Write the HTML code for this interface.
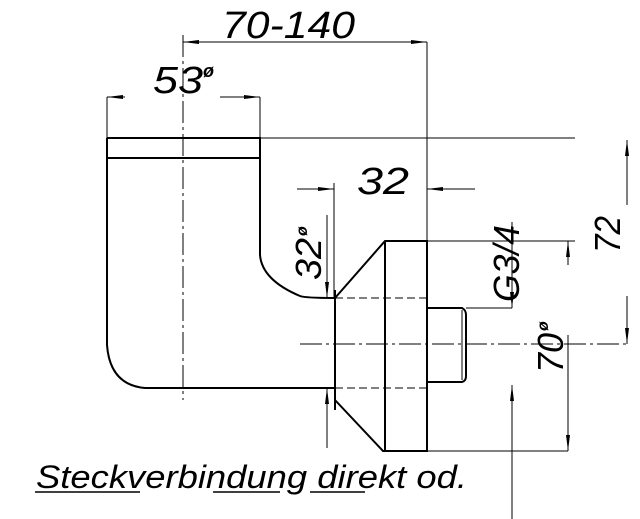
<!DOCTYPE html>
<html><head><meta charset="utf-8"><style>
html,body{margin:0;padding:0;background:#fff;}
svg{display:block;}
text{font-family:"Liberation Sans",sans-serif;font-style:italic;fill:#000;}
</style></head><body>
<svg width="640" height="519" viewBox="0 0 640 519" xmlns="http://www.w3.org/2000/svg">
<g stroke="#000" fill="none" stroke-width="2">
<path d="M107,138 H260 V255 Q262,280 300,296 Q305,298 335,298"/>
<path d="M107,138 V345 Q110,385 145,388 H335"/>
<line x1="107" y1="158" x2="260" y2="158"/>
<path d="M335,298 L385,241 H427 V451 H383 L335,400 Z"/>
<line x1="335" y1="290" x2="335" y2="410"/>
<line x1="385" y1="241" x2="385" y2="451"/>
<path d="M427,308 H462 Q466,310 466,315 V376 Q466,381 462,382 H427"/>
</g>
<g stroke="#000" fill="none" stroke-width="1">
<line x1="462" y1="310" x2="462" y2="380"/>
<line x1="183" y1="35" x2="183" y2="400" stroke-dasharray="22,4,3,4"/>
<line x1="300" y1="344" x2="628" y2="344" stroke-dasharray="22,4,3,4"/>
<line x1="335" y1="298" x2="427" y2="298" stroke-dasharray="8,4"/>
<line x1="335" y1="388" x2="427" y2="388" stroke-dasharray="8,4"/>
<line x1="183" y1="42" x2="427" y2="42"/>
<line x1="427" y1="42" x2="427" y2="241"/>
<line x1="107" y1="97" x2="125" y2="97"/>
<line x1="220" y1="97" x2="260" y2="97"/>
<line x1="107" y1="97" x2="107" y2="138"/>
<line x1="260" y1="97" x2="260" y2="138"/>
<line x1="260" y1="138" x2="575" y2="138"/>
<line x1="297" y1="189" x2="334" y2="189"/>
<line x1="427" y1="189" x2="475" y2="189"/>
<line x1="334" y1="183" x2="334" y2="298"/>
<line x1="327" y1="215" x2="327" y2="298"/>
<line x1="327" y1="388" x2="327" y2="448"/>
<line x1="427" y1="241" x2="575" y2="241"/>
<line x1="466" y1="308" x2="512" y2="308"/>
<line x1="512" y1="222" x2="512" y2="308"/>
<line x1="512" y1="385" x2="512" y2="519"/>
<line x1="568" y1="241" x2="568" y2="265"/>
<line x1="568" y1="335" x2="568" y2="451"/>
<line x1="427" y1="451" x2="568" y2="451"/>
<line x1="627" y1="140" x2="627" y2="205"/>
<line x1="627" y1="296" x2="627" y2="344"/>
</g>
<g fill="#000">
<path d="M183,42 l16,-2 v4 z"/><path d="M427,42 l-16,-2 v4 z"/>
<path d="M107,97 l16,-2 v4 z"/><path d="M260,97 l-16,-2 v4 z"/>
<path d="M334,189 l-16,-2 v4 z"/><path d="M427,189 l16,-2 v4 z"/>
<path d="M327,298 l-2,-16 h4 z"/><path d="M327,388 l-2,16 h4 z"/>
<path d="M512,308 l-2,-16 h4 z"/><path d="M512,385 l-2,16 h4 z"/>
<path d="M568,241 l-2,16 h4 z"/><path d="M568,451 l-2,-16 h4 z"/>
<path d="M627,140 l-2,16 h4 z"/><path d="M627,344 l-2,-16 h4 z"/>
</g>
<text x="222" y="38" font-size="38" textLength="133" lengthAdjust="spacingAndGlyphs">70-140</text>
<text x="153" y="93" font-size="38" textLength="50" lengthAdjust="spacingAndGlyphs">53</text>
<text x="203" y="77" font-size="18" font-weight="bold">ø</text>
<text x="357" y="194" font-size="38" textLength="52" lengthAdjust="spacingAndGlyphs">32</text>
<text transform="translate(321,280) rotate(-90)" font-size="36" textLength="42" lengthAdjust="spacingAndGlyphs">32</text>
<text transform="translate(307,236) rotate(-90)" font-size="16" font-weight="bold">ø</text>
<text transform="translate(519,302) rotate(-90)" font-size="36" textLength="77" lengthAdjust="spacingAndGlyphs">G3/4</text>
<text transform="translate(563,373) rotate(-90)" font-size="36" textLength="40" lengthAdjust="spacingAndGlyphs">70</text>
<text transform="translate(548,331) rotate(-90)" font-size="16" font-weight="bold">ø</text>
<text transform="translate(620,253) rotate(-90)" font-size="36" textLength="37" lengthAdjust="spacingAndGlyphs">72</text>
<text x="36" y="488" font-size="32" textLength="431" lengthAdjust="spacingAndGlyphs">Steckverbindung direkt od.</text>
<g stroke="#000" stroke-width="1.5">
<line x1="35" y1="492" x2="140" y2="492"/>
<line x1="213" y1="492" x2="280" y2="492"/>
<line x1="310" y1="492" x2="365" y2="492"/>
</g>
</svg>
</body></html>
